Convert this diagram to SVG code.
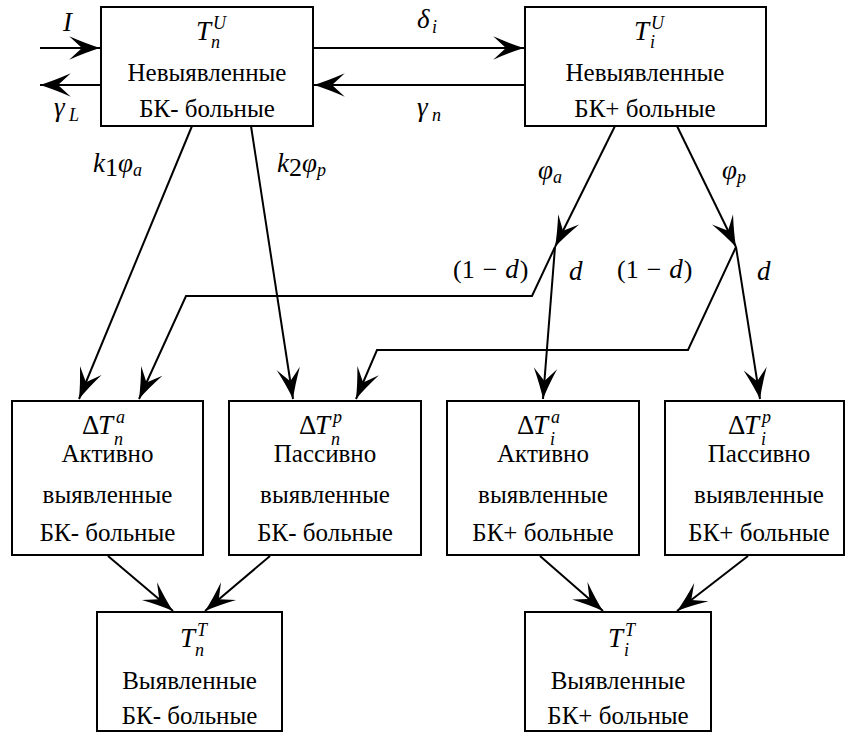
<svg xmlns="http://www.w3.org/2000/svg" width="850" height="736" viewBox="0 0 850 736">
<defs>
<marker id="ah" markerUnits="userSpaceOnUse" markerWidth="34" markerHeight="26" viewBox="-31 -12 32 24" refX="0" refY="0" orient="auto">
<path d="M0,0 Q-13,-4 -29,-11 L-17,0 L-29,11 Q-13,4 0,0 Z" fill="#000"/>
</marker>
</defs>
<style>
text{font-family:"Liberation Serif","Times New Roman",serif;fill:#000}
.t{font-size:25px;text-anchor:middle}
.m{font-size:27px;font-style:italic}
.u{font-size:27px}
.s{font-size:18px;font-style:italic}
.l{font-size:27px;font-style:italic}
.lu{font-size:26px}
.box{fill:#fff;stroke:#000;stroke-width:2}
.c{fill:none;stroke:#000;stroke-width:2;marker-end:url(#ah)}
</style>
<rect width="850" height="736" fill="#fff"/>
<g id="connectors">
<line class="c" x1="40" y1="48" x2="100" y2="48"/>
<line class="c" x1="101" y1="85" x2="40" y2="85"/>
<line class="c" x1="313" y1="48" x2="524" y2="48"/>
<line class="c" x1="525" y1="85" x2="314" y2="85"/>
<line class="c" x1="192" y1="126" x2="79" y2="399"/>
<line class="c" x1="251" y1="126" x2="293" y2="399"/>
<line class="c" x1="615" y1="126" x2="555" y2="247"/>
<line class="c" x1="677" y1="126" x2="736" y2="247"/>
<line class="c" x1="555" y1="247" x2="543" y2="399"/>
<polyline class="c" points="555,247 532,296 186,296 139,399"/>
<line class="c" x1="736" y1="247" x2="760" y2="399"/>
<polyline class="c" points="736,247 688,350 377,350 356,399"/>
<line class="c" x1="108" y1="556" x2="173" y2="611"/>
<line class="c" x1="270" y1="556" x2="205" y2="611"/>
<line class="c" x1="540" y1="556" x2="603" y2="611"/>
<line class="c" x1="748" y1="556" x2="677" y2="611"/>
</g>
<g id="labels">
<text class="m" x="63" y="31" font-size="29">I</text>
<text class="l" x="54" y="116">γ</text><text class="s" x="69" y="121">L</text>
<text class="l" x="417" y="28">δ</text><text class="s" x="432" y="33">i</text>
<text class="l" x="417" y="116">γ</text><text class="s" x="432" y="121">n</text>
<text x="93" y="172"><tspan class="l">k</tspan><tspan class="lu" font-size="19" dy="4">1</tspan><tspan class="l" dy="-4">φ</tspan><tspan class="s" font-size="19" dy="4">a</tspan></text>
<text x="277" y="172"><tspan class="l">k</tspan><tspan class="lu" font-size="19" dy="4">2</tspan><tspan class="l" dy="-4">φ</tspan><tspan class="s" font-size="19" dy="4">p</tspan></text>
<text x="538" y="179"><tspan class="l">φ</tspan><tspan class="s" font-size="19" dy="4">a</tspan></text>
<text x="722" y="179"><tspan class="l">φ</tspan><tspan class="s" font-size="19" dy="4">p</tspan></text>
<text x="453" y="278"><tspan class="lu">(1</tspan><tspan class="lu" dx="8">−</tspan><tspan class="l" dx="8">d</tspan><tspan class="lu" dx="1">)</tspan></text>
<text class="l" x="569" y="280">d</text>
<text x="617" y="278"><tspan class="lu">(1</tspan><tspan class="lu" dx="8">−</tspan><tspan class="l" dx="8">d</tspan><tspan class="lu" dx="1">)</tspan></text>
<text class="l" x="757" y="280">d</text>
</g>
<g id="node-Tn-U">
<rect class="box" x="101" y="7" width="212" height="119"/>
<text class="m" x="196" y="40">T</text><text class="s" x="213" y="29">U</text><text class="s" x="211" y="48">n</text>
<text class="t" x="207" y="81">Невыявленные</text>
<text class="t" x="207" y="117">БК- больные</text>
</g>
<g id="node-Ti-U">
<rect class="box" x="525" y="7" width="241" height="119"/>
<text class="m" x="634" y="40">T</text><text class="s" x="651" y="29">U</text><text class="s" x="650" y="48">i</text>
<text class="t" x="645" y="81">Невыявленные</text>
<text class="t" x="645" y="117">БК+ больные</text>
</g>
<g id="node-dTn-a">
<rect class="box" x="12" y="401" width="191" height="154"/>
<text class="u" x="82" y="434">Δ</text><text class="m" x="98" y="434">T</text><text class="s" x="116" y="423">a</text><text class="s" x="114" y="445">n</text>
<text class="t" x="107.5" y="462">Активно</text>
<text class="t" x="107.5" y="503">выявленные</text>
<text class="t" x="107.5" y="541">БК- больные</text>
</g>
<g id="node-dTn-p">
<rect class="box" x="229" y="401" width="192" height="154"/>
<text class="u" x="299" y="434">Δ</text><text class="m" x="315" y="434">T</text><text class="s" x="333" y="423">p</text><text class="s" x="331" y="445">n</text>
<text class="t" x="325" y="462">Пассивно</text>
<text class="t" x="325" y="503">выявленные</text>
<text class="t" x="325" y="541">БК- больные</text>
</g>
<g id="node-dTi-a">
<rect class="box" x="447" y="401" width="192" height="154"/>
<text class="u" x="517" y="434">Δ</text><text class="m" x="533" y="434">T</text><text class="s" x="551" y="423">a</text><text class="s" x="550" y="445">i</text>
<text class="t" x="543" y="462">Активно</text>
<text class="t" x="543" y="503">выявленные</text>
<text class="t" x="543" y="541">БК+ больные</text>
</g>
<g id="node-dTi-p">
<rect class="box" x="665" y="401" width="179" height="154"/>
<text class="u" x="728" y="434">Δ</text><text class="m" x="744" y="434">T</text><text class="s" x="762" y="423">p</text><text class="s" x="761" y="445">i</text>
<text class="t" x="759" y="462">Пассивно</text>
<text class="t" x="759" y="503">выявленные</text>
<text class="t" x="759" y="541">БК+ больные</text>
</g>
<g id="node-Tn-T">
<rect class="box" x="97" y="612" width="185" height="119"/>
<text class="m" x="180" y="647">T</text><text class="s" x="197" y="636">T</text><text class="s" x="195" y="656">n</text>
<text class="t" x="189.5" y="689">Выявленные</text>
<text class="t" x="189.5" y="724">БК- больные</text>
</g>
<g id="node-Ti-T">
<rect class="box" x="525" y="612" width="186" height="119"/>
<text class="m" x="608" y="647">T</text><text class="s" x="625" y="636">T</text><text class="s" x="624" y="656">i</text>
<text class="t" x="618" y="689">Выявленные</text>
<text class="t" x="618" y="724">БК+ больные</text>
</g>
</svg>
